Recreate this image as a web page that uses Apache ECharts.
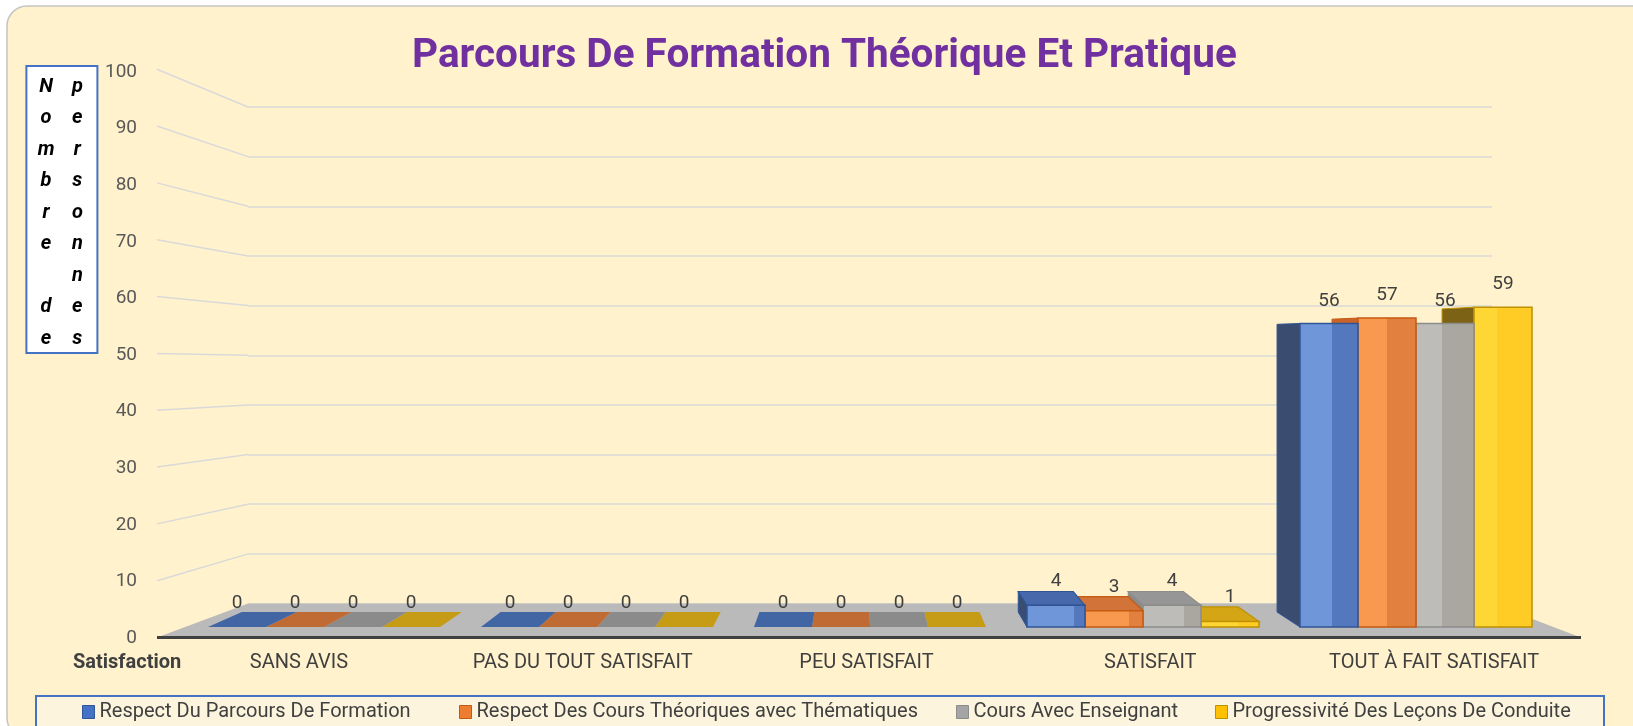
<!DOCTYPE html>
<html>
<head>
<meta charset="utf-8">
<script src="https://cdn.jsdelivr.net/npm/echarts@6/dist/echarts.min.js"></script>
<style>
html,body{margin:0;padding:0;background:#ffffff;}
#c{width:1633px;height:726px;}
</style>
</head>
<body>
<div id="c"></div>
<script>
// ---------------- data ----------------
const categories = ['SANS AVIS', 'PAS DU TOUT SATISFAIT', 'PEU SATISFAIT', 'SATISFAIT', 'TOUT À FAIT SATISFAIT'];
const seriesNames = [
  'Respect Du Parcours De Formation',
  'Respect Des Cours Théoriques avec Thématiques',
  'Cours Avec Enseignant',
  'Progressivité Des Leçons De Conduite'
];
const respectParcours = [0, 0, 0, 4, 56];
const respectCours    = [0, 0, 0, 3, 57];
const coursEnseignant = [0, 0, 0, 4, 56];
const progressivite   = [0, 0, 0, 1, 59];
const yTicks = [0, 10, 20, 30, 40, 50, 60, 70, 80, 90, 100];
const titleText = 'Parcours De Formation Théorique Et Pratique';
const yTitleCol1 = 'Nombre de';
const yTitleCol2 = 'personnes';
const xTitleText = 'Satisfaction';

const seriesValues = [respectParcours, respectCours, coursEnseignant, progressivite];

// ---------------- styling ----------------
const palette = [
  {base:'#4472C4', light:'#6E96D9', dark:'#5478BD', side:'#3A4C6F', top:'#4768AA', tile:'#4265A3', border:'#2F5597'},
  {base:'#ED7D31', light:'#F8994F', dark:'#E2803F', side:'#C8632A', top:'#D2743A', tile:'#C06B33', border:'#C55A11'},
  {base:'#A5A5A5', light:'#BDBCB8', dark:'#A9A79F', side:'#8A8A8A', top:'#969696', tile:'#8B8B8B', border:'#8C8C8C'},
  {base:'#FFC000', light:'#FFD735', dark:'#FFCC26', side:'#7C6214', top:'#D4A514', tile:'#C69C16', border:'#BF9000'}
];
const FONT = 'Roboto';
const BAR_FRAC = 0.2125;          // bar width as a fraction of the category band
const BAR_VP = [1.96, 53];        // vanishing point of bar depth (category units, value units)
const BAR_DEPTH = 0.948;          // back/front scale of bar depth
const WALL_VP = [0.5056, 47.4];   // vanishing point of the walls (back-wall x fraction, value)
const WALL_DEPTH = 0.8736;        // back wall / front axis scale
const LABEL_GAP = 9;
const LABEL_GAP_PER_UNIT = 0.24;
const LEGEND_LEFT = [82, 459, 956, 1215];

function yTitleRich() {
  const a = yTitleCol1.split(''), b = yTitleCol2.split('');
  const n = Math.max(a.length, b.length);
  const lines = [];
  for (let i = 0; i < n; i++) {
    lines.push('{a|' + (a[i] || ' ') + '}{b|' + (b[i] || ' ') + '}');
  }
  return lines.join('\n');
}
const richCell = {width: 31.3, align: 'center', fontSize: 20, fontWeight: 'bold', fontStyle: 'italic',
                  color: '#000000', lineHeight: 31.5, fontFamily: FONT};

function barRender(si) {
  const pal = palette[si];
  return function (params, api) {
    const cat = api.value(0), v = api.value(1);
    const c0 = api.coord([0, 0]), c1 = api.coord([1, 0]);
    const band = c1[0] - c0[0];
    const bw = band * BAR_FRAC;
    const base = api.coord([cat, 0]);
    const top = api.coord([cat, v]);
    const x0 = base[0] + (si - 2) * bw, x1 = x0 + bw;
    const yb = base[1], yt = top[1];
    const vpx = c0[0] + BAR_VP[0] * band;
    const vpy = api.coord([0, BAR_VP[1]])[1];
    const P = p => [vpx + (p[0] - vpx) * BAR_DEPTH, vpy + (p[1] - vpy) * BAR_DEPTH];
    const fbl = [x0, yb], fbr = [x1, yb], ftr = [x1, yt], ftl = [x0, yt];
    const bbl = P(fbl), bbr = P(fbr), btr = P(ftr), btl = P(ftl);
    const ch = [];
    const stroke = pal.border;
    const hasHeight = (yb - yt) > 0.5;
    if (hasHeight && x0 > vpx) ch.push({type: 'polygon', shape: {points: [fbl, ftl, btl, bbl]},
      style: {fill: pal.side, stroke: stroke, lineWidth: 1}});
    if (hasHeight && x1 < vpx) ch.push({type: 'polygon', shape: {points: [fbr, ftr, btr, bbr]},
      style: {fill: pal.side, stroke: stroke, lineWidth: 1}});
    if (btl[1] < ftl[1]) {
      ch.push({type: 'polygon', shape: {points: [ftl, ftr, btr, btl]},
        style: v === 0 ? {fill: pal.tile} : {fill: pal.top, stroke: stroke, lineWidth: 1.2}});
    }
    if (hasHeight) {
      let stops;
      if (x0 > vpx) {
        const f = Math.max(0, Math.min(1, (btr[0] - x0) / bw));
        stops = [{offset: 0, color: pal.light}, {offset: f, color: pal.light}, {offset: f, color: pal.dark}, {offset: 1, color: pal.dark}];
      } else {
        const f = Math.max(0, Math.min(1, (btl[0] - x0) / bw));
        stops = [{offset: 0, color: pal.dark}, {offset: f, color: pal.dark}, {offset: f, color: pal.light}, {offset: 1, color: pal.light}];
      }
      ch.push({type: 'rect', shape: {x: x0, y: yt, width: bw, height: yb - yt},
        style: {fill: new echarts.graphic.LinearGradient(0, 0, 1, 0, stops), stroke: stroke, lineWidth: 1.5}});
    }
    const ly = Math.min(yt, btl[1]) - (LABEL_GAP + LABEL_GAP_PER_UNIT * v);
    ch.push({type: 'text', x: (x0 + x1) / 2, y: ly,
      style: {text: String(v), fill: '#404040', font: '19px ' + FONT, align: 'center', verticalAlign: 'middle'}});
    return {type: 'group', children: ch};
  };
}

function wallProject(api) {
  const vp = api.coord(WALL_VP);
  return p => [vp[0] + (p[0] - vp[0]) / WALL_DEPTH, vp[1] + (p[1] - vp[1]) / WALL_DEPTH];
}

const series = [
  { // floor
    type: 'custom', xAxisIndex: 1, yAxisIndex: 1, z: 1, silent: true, data: [[0, 0]],
    renderItem: function (params, api) {
      const F = wallProject(api);
      const bl = api.coord([0, 0]), br = api.coord([1, 0]);
      const fl = F(bl), fr = F(br);
      return {type: 'group', children: [
        {type: 'polygon', shape: {points: [bl, br, fr, fl]}, style: {fill: '#BABABA'}},
        {type: 'line', shape: {x1: fl[0], y1: fl[1], x2: fr[0], y2: fr[1]}, style: {stroke: '#404040', lineWidth: 3}}
      ]};
    }
  },
  { // left wall grid lines
    type: 'custom', xAxisIndex: 1, yAxisIndex: 1, z: 1, silent: true,
    data: yTicks.filter(t => t > 0).map(t => [0, t]),
    renderItem: function (params, api) {
      const F = wallProject(api);
      const b = api.coord([0, api.value(1)]);
      const f = F(b);
      return {type: 'line', shape: {x1: f[0], y1: f[1], x2: b[0], y2: b[1]}, style: {stroke: '#D9D9D9', lineWidth: 1.5}};
    }
  }
];
const barZ = [5, 4, 3, 2];
seriesNames.forEach((name, i) => {
  series.push({
    name: name, type: 'custom', xAxisIndex: 2, yAxisIndex: 2, z: barZ[i],
    itemStyle: {color: palette[i].base},
    encode: {x: 0, y: 1},
    data: seriesValues[i].map((v, ci) => [ci, v]),
    renderItem: barRender(i)
  });
});

const option = {
  backgroundColor: '#ffffff',
  animation: false,
  textStyle: {fontFamily: FONT},
  graphic: [
    {type: 'rect', z: -100, silent: true, shape: {x: 7, y: 6, width: 1660, height: 732, r: 20},
     style: {fill: '#FFF2CC', stroke: '#C4C4C4', lineWidth: 1.5}},
    {type: 'rect', z: -50, silent: true, shape: {x: 36, y: 696, width: 1568, height: 40},
     style: {fill: '#FCF4DC', stroke: '#4472C4', lineWidth: 2}}
  ],
  title: [
    {text: titleText, left: 412, top: 36, padding: 0,
     textStyle: {fontFamily: FONT, fontWeight: 'bold', fontSize: 40.5, color: '#7030A0'}},
    {text: yTitleRich(), left: 26, top: 60, padding: [11, 5, 4.5, 4.4],
     backgroundColor: '#ffffff', borderColor: '#4472C4', borderWidth: 2,
     textStyle: {rich: {a: richCell, b: richCell}}},
    {text: xTitleText, left: 73, top: 653, padding: 0,
     textStyle: {fontFamily: FONT, fontWeight: 'bold', fontSize: 20, color: '#404040'}}
  ],
  legend: seriesNames.map((n, i) => ({
    data: [n], left: LEGEND_LEFT[i], top: 702, padding: 0, icon: 'rect',
    itemWidth: 12, itemHeight: 13, selectedMode: false,
    itemStyle: {borderColor: palette[i].border, borderWidth: 1},
    textStyle: {fontFamily: FONT, fontSize: 20, color: '#404040'}
  })),
  grid: [
    {left: 157, right: 57, top: 72, bottom: 88},      // front axis (labels)
    {left: 248, right: 141, top: 107, bottom: 122.5}, // back wall
    {left: 187.5, right: 80.5, top: 85, bottom: 99}   // bar front plane
  ],
  xAxis: [
    {gridIndex: 0, type: 'category', data: categories,
     axisLine: {show: false}, axisTick: {show: false},
     axisLabel: {margin: 15, fontSize: 20, color: '#404040', fontFamily: FONT, interval: 0}},
    {gridIndex: 1, type: 'value', min: 0, max: 1, show: false},
    {gridIndex: 2, type: 'category', data: categories, show: false}
  ],
  yAxis: [
    {gridIndex: 0, type: 'value', min: yTicks[0], max: yTicks[yTicks.length - 1], interval: yTicks[1] - yTicks[0],
     axisLine: {show: false}, axisTick: {show: false}, splitLine: {show: false},
     axisLabel: {margin: 20, fontSize: 19, color: '#595959', fontFamily: FONT}},
    {gridIndex: 1, type: 'value', min: yTicks[0], max: yTicks[yTicks.length - 1], interval: yTicks[1] - yTicks[0],
     axisLine: {show: false}, axisTick: {show: false}, axisLabel: {show: false},
     splitLine: {show: true, lineStyle: {color: '#D9D9D9', width: 1.5}}},
    {gridIndex: 2, type: 'value', min: yTicks[0], max: yTicks[yTicks.length - 1], show: false}
  ],
  series: series
};

const chart = echarts.init(document.getElementById('c'), null, {renderer: 'canvas'});
chart.setOption(option);
</script>
</body>
</html>
